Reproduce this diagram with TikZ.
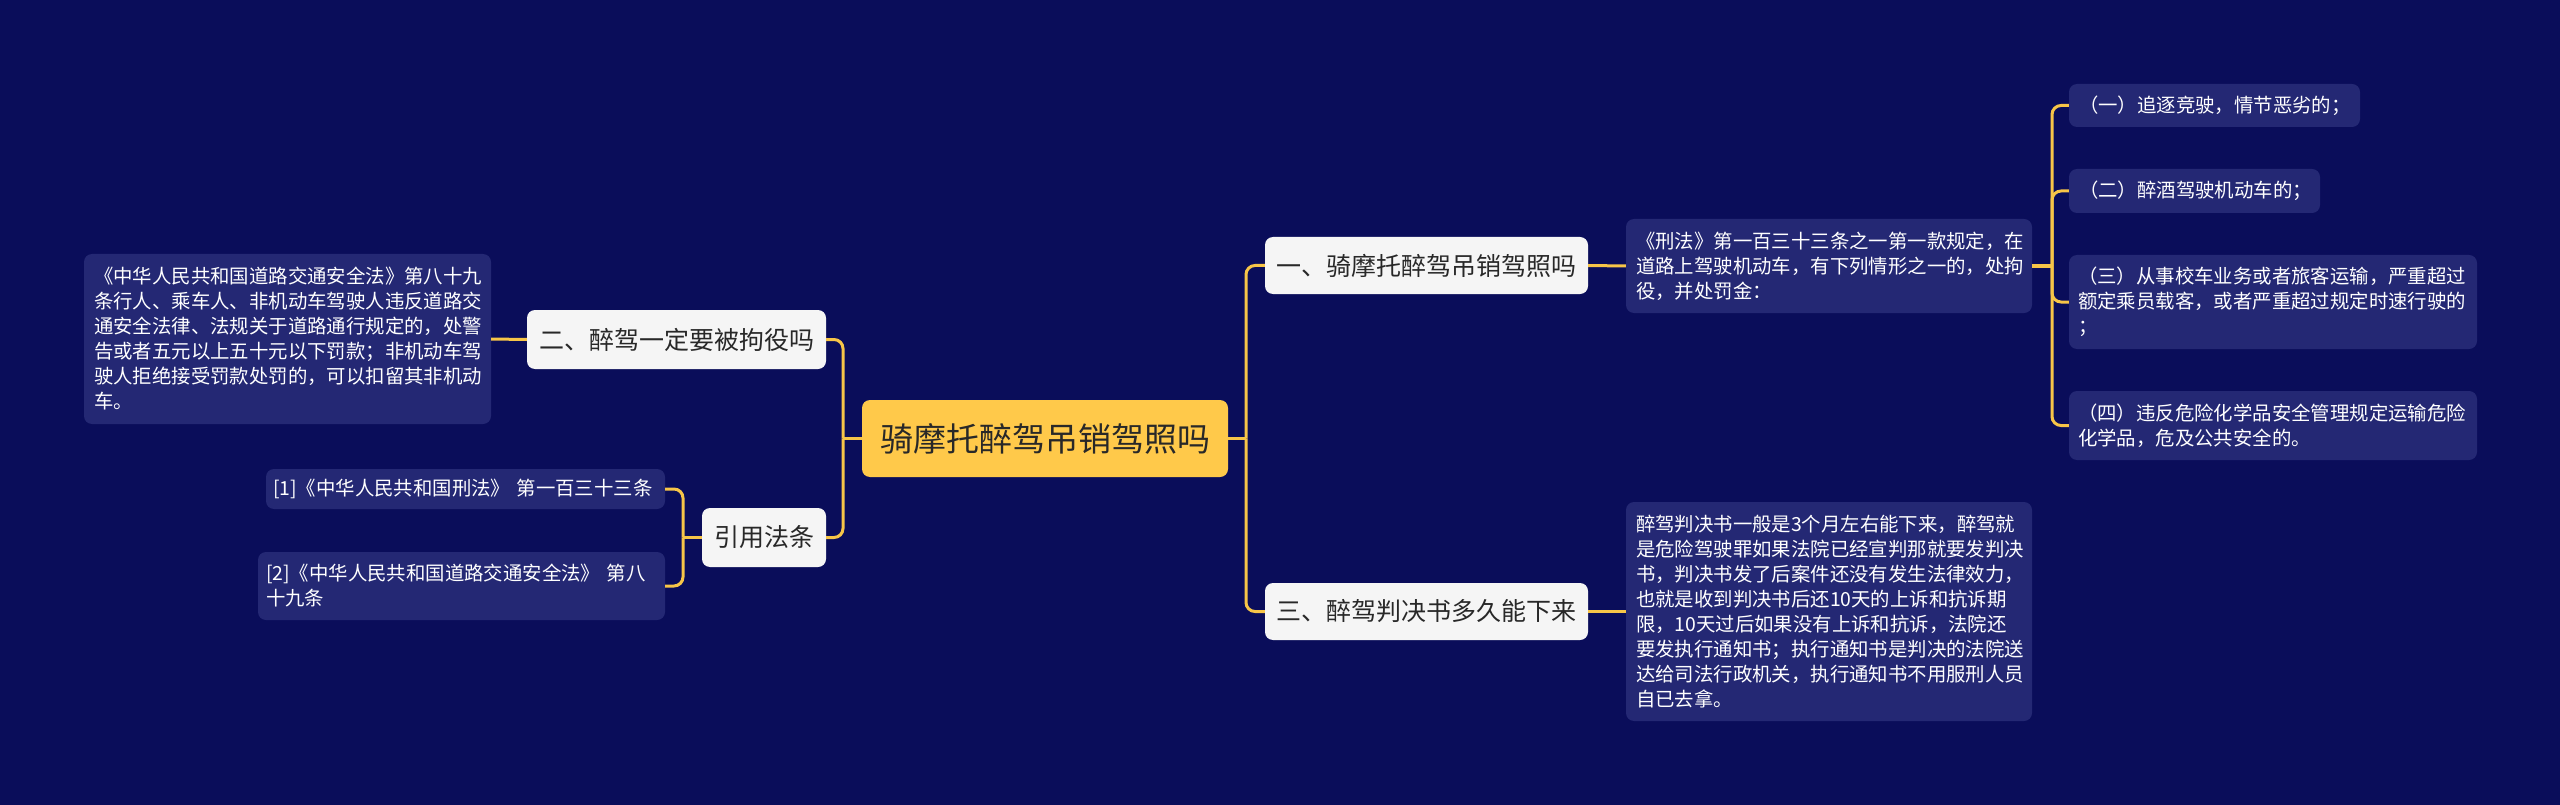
\documentclass[tikz,border=0pt]{standalone}
\usepackage{fontspec}
\setmainfont{Noto Sans CJK SC}
\definecolor{bgc}{RGB}{10,13,90}
\definecolor{leafc}{RGB}{36,40,116}
\definecolor{whitec}{RGB}{245,245,245}
\definecolor{rootc}{RGB}{255,201,74}
\definecolor{linec}{RGB}{247,197,72}
\definecolor{darktext}{RGB}{40,40,40}
\tikzset{
  box/.style={rectangle, rounded corners=8pt, inner ysep=0pt, anchor=center},
  leaf/.style={box, fill=leafc, text=white, inner xsep=10pt, align=left,
    font=\fontsize{19.4}{25}\selectfont},
  branch/.style={box, fill=whitec, text=darktext, align=center, inner xsep=6pt,
    font=\fontsize{25}{30}\selectfont},
  rootbox/.style={box, fill=rootc, text=darktext, align=center,
    font=\fontsize{33}{38}\selectfont},
  conn/.style={draw=linec, line width=3pt},
  elbow/.style={conn, rounded corners=9pt},
}
\begin{document}
\begin{tikzpicture}[x=1pt,y=-1pt]
\fill[bgc] (0,0) rectangle (2560,805);
\useasboundingbox (0,0) rectangle (2560,805);

% root
\node[rootbox, minimum width=366pt, minimum height=77pt] (root) at (1045,438.5) {骑摩托醉驾吊销驾照吗};

% branches
\node[branch, minimum width=323pt, minimum height=57pt] (b1) at (1426.5,265.5) {一、骑摩托醉驾吊销驾照吗};
\node[branch, minimum width=323pt, minimum height=57pt] (b3) at (1426.5,611.5) {三、醉驾判决书多久能下来};
\node[branch, minimum width=299pt, minimum height=59pt] (b2) at (676.5,339.5) {二、醉驾一定要被拘役吗};
\node[branch, minimum width=124pt, minimum height=59pt] (b4) at (764,537.5) {引用法条};

% leaves left
\node[leaf, minimum width=407pt, minimum height=170pt, text width=387pt] (l1) at (287.5,339) {《中华人民共和国道路交通安全法》第八十九\\条行人、乘车人、非机动车驾驶人违反道路交\\通安全法律、法规关于道路通行规定的，处警\\告或者五元以上五十元以下罚款；非机动车驾\\驶人拒绝接受罚款处罚的，可以扣留其非机动\\车。};
\node[leaf, minimum width=399pt, minimum height=40pt, text width=385pt, inner xsep=7pt] (r1) at (465.5,489) {[1]《中华人民共和国刑法》 第一百三十三条};
\node[leaf, minimum width=407pt, minimum height=68pt, text width=391pt, inner xsep=8pt] (r2) at (461.5,586) {[2]《中华人民共和国道路交通安全法》 第八\\十九条};

% leaves right
\node[leaf, minimum width=406pt, minimum height=94pt, text width=386pt] (m1) at (1829,266) {《刑法》第一百三十三条之一第一款规定，在\\道路上驾驶机动车，有下列情形之一的，处拘\\役，并处罚金：};
\node[leaf, minimum width=406pt, minimum height=219pt, text width=386pt] (m3) at (1829,611.5) {醉驾判决书一般是3个月左右能下来，醉驾就\\是危险驾驶罪如果法院已经宣判那就要发判决\\书，判决书发了后案件还没有发生法律效力，\\也就是收到判决书后还10天的上诉和抗诉期\\限，10天过后如果没有上诉和抗诉，法院还\\要发执行通知书；执行通知书是判决的法院送\\达给司法行政机关，执行通知书不用服刑人员\\自已去拿。};

\node[leaf, minimum width=291pt, minimum height=43pt, text width=271pt] (a1) at (2214.5,105.5) {（一）追逐竞驶，情节恶劣的；};
\node[leaf, minimum width=251pt, minimum height=44pt, text width=231pt] (a2) at (2194.5,191) {（二）醉酒驾驶机动车的；};
\node[leaf, minimum width=408pt, minimum height=94pt, text width=390pt, inner xsep=9pt] (a3) at (2273,302) {（三）从事校车业务或者旅客运输，严重超过\\额定乘员载客，或者严重超过规定时速行驶的\\；};
\node[leaf, minimum width=408pt, minimum height=69pt, text width=390pt, inner xsep=9pt] (a4) at (2273,425.5) {（四）违反危险化学品安全管理规定运输危险\\化学品，危及公共安全的。};

% connectors
\coordinate (jr) at (1246,438.5);
\coordinate (jl) at (843,438.5);
\coordinate (jq) at (683,537.5);
\coordinate (jm) at (2052,266);

\draw[conn] (root.east) -- (jr);
\draw[elbow] (jr) |- (b1.west);
\draw[elbow] (jr) |- (b3.west);
\draw[conn] (root.west) -- (jl);
\draw[elbow] (jl) |- (b2.east);
\draw[elbow] (jl) |- (b4.east);

\draw[conn] (b2.west) -- (l1.east);
\draw[conn] (b4.west) -- (jq);
\draw[elbow] (jq) |- (r1.east);
\draw[elbow] (jq) |- (r2.east);

\draw[conn] (b1.east) -- (m1.west);
\draw[conn] (b3.east) -- (m3.west);

\draw[conn] (m1.east) -- (jm);
\draw[elbow] (jm) |- (a1.west);
\draw[elbow] (jm) |- (a2.west);
\draw[elbow] (jm) |- (a3.west);
\draw[elbow] (jm) |- (a4.west);
\end{tikzpicture}
\end{document}
